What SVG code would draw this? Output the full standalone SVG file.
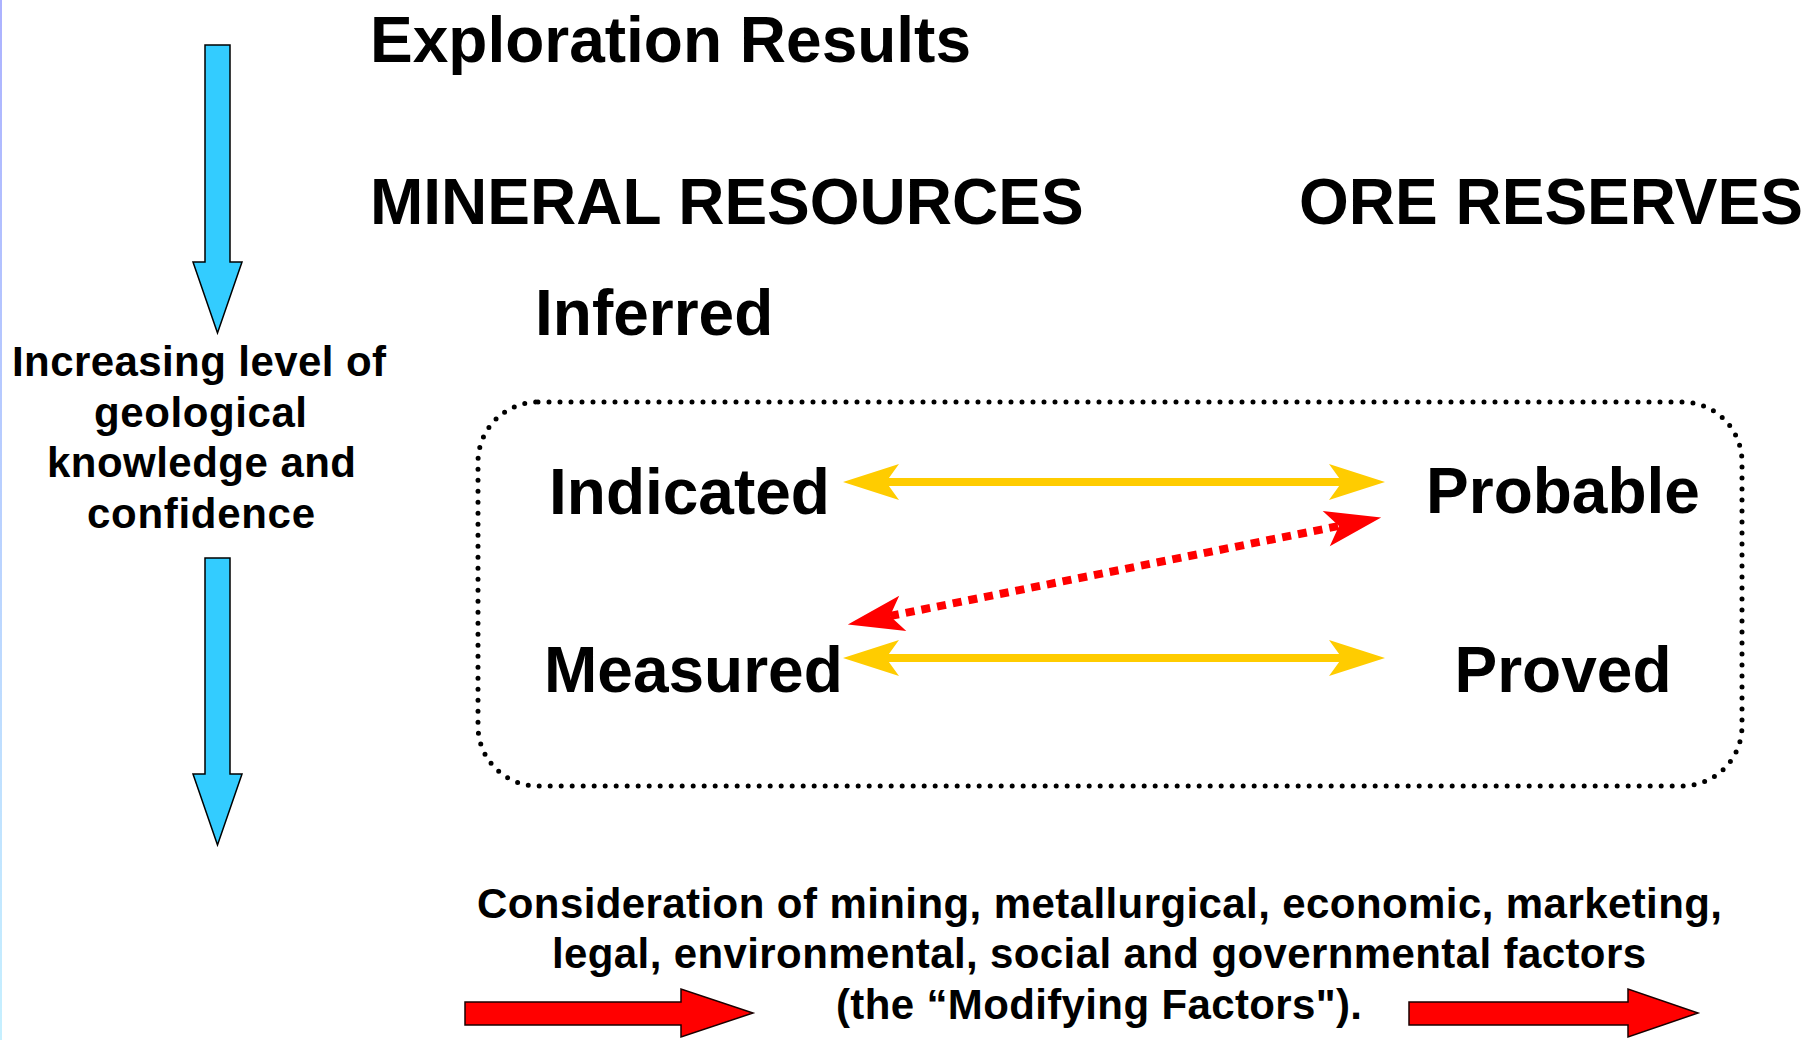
<svg xmlns="http://www.w3.org/2000/svg" width="1820" height="1040" viewBox="0 0 1820 1040">
<style>
.t{font-family:"Liberation Sans",Arial,sans-serif;font-weight:bold;fill:#000}
.big{font-size:64px}
.sm{font-size:42px}
.blue{fill:#33ccff;stroke:#000;stroke-width:1.5;stroke-linejoin:miter}
.red{fill:#ff0000;stroke:#1a0000;stroke-width:1.5}
.ylw{fill:none;stroke:#ffcc00;stroke-width:8}
.rdash{fill:none;stroke:#ff0000;stroke-width:8;stroke-dasharray:9 7}
</style>
<defs>
<linearGradient id="edge" x1="0" y1="0" x2="0" y2="1">
<stop offset="0" stop-color="#acb2ff"/>
<stop offset="1" stop-color="#c6f0ff"/>
</linearGradient>
<marker id="hy" markerUnits="userSpaceOnUse" markerWidth="60" markerHeight="40" refX="13" refY="18" orient="auto-start-reverse" overflow="visible">
<path d="M0,0 L56,18 L0,36 L13,18 Z" fill="#ffcc00"/>
</marker>
<marker id="hr" markerUnits="userSpaceOnUse" markerWidth="60" markerHeight="40" refX="13" refY="18" orient="auto-start-reverse" overflow="visible">
<path d="M0,0 L56,18 L0,36 L13,18 Z" fill="#ff0000"/>
</marker>
</defs>
<rect x="0" y="0" width="1820" height="1040" fill="#fff"/>
<rect x="0" y="0" width="2" height="1040" fill="url(#edge)"/>

<g id="exploration-results"><text class="t big" x="370" y="62">Exploration Results</text></g>
<g id="mineral-resources"><text class="t big" x="370" y="224">MINERAL RESOURCES</text></g>
<g id="ore-reserves"><text class="t big" x="1299" y="224">ORE RESERVES</text></g>
<g id="inferred"><text class="t big" x="535" y="335">Inferred</text></g>

<g id="confidence-box">
<rect x="478" y="402" width="1264" height="384" rx="60" ry="60" fill="none" stroke="#000" stroke-width="5" stroke-dasharray="0 11" stroke-linecap="round"/>
</g>
<g id="indicated"><text class="t big" x="549" y="514">Indicated</text></g>
<g id="measured"><text class="t big" x="544" y="692">Measured</text></g>
<g id="probable"><text class="t big" x="1563" y="513" text-anchor="middle">Probable</text></g>
<g id="proved"><text class="t big" x="1563" y="692" text-anchor="middle">Proved</text></g>

<g id="knowledge-axis">
<polygon class="blue" points="205,45 230,45 230,262 242,262 217.5,333 193,262 205,262"/>
<text class="t sm">
<tspan x="12" y="376" textLength="374">Increasing level of</tspan>
<tspan x="94" y="427" textLength="213">geological</tspan>
<tspan x="47" y="477" textLength="309">knowledge and</tspan>
<tspan x="87" y="528" textLength="228">confidence</tspan>
</text>
<polygon class="blue" points="205,558 230,558 230,774 242,774 217.5,845 193,774 205,774"/>
</g>

<g id="modifying-factors">
<polygon class="red" points="465,1002 681,1002 681,989 753,1013 681,1037 681,1025 465,1025"/>
<text class="t sm">
<tspan x="477" y="918" textLength="1245">Consideration of mining, metallurgical, economic, marketing,</tspan>
<tspan x="552" y="968" textLength="1094">legal, environmental, social and governmental factors</tspan>
<tspan x="836" y="1019" textLength="526">(the “Modifying Factors").</tspan>
</text>
<polygon class="red" points="1409,1002 1628,1002 1628,989 1698,1013 1628,1037 1628,1025 1409,1025"/>
</g>

<g id="connectors">
<path class="ylw" d="M886,482 H1342" marker-start="url(#hy)" marker-end="url(#hy)"/>
<path class="ylw" d="M886,658 H1342" marker-start="url(#hy)" marker-end="url(#hy)"/>
<path class="rdash" d="M890,616 L1339,526" marker-start="url(#hr)" marker-end="url(#hr)"/>
</g>
</svg>
